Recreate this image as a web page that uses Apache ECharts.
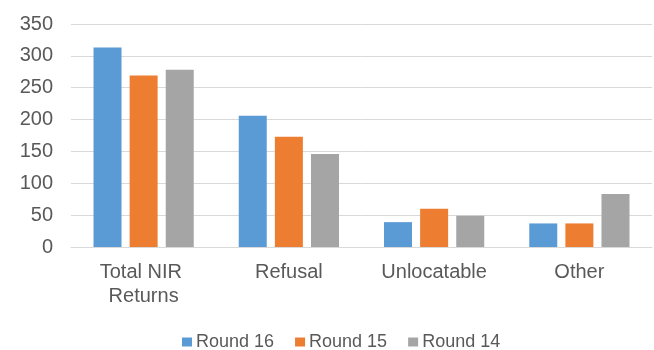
<!DOCTYPE html>
<html>
<head>
<meta charset="utf-8">
<script src="https://cdn.jsdelivr.net/npm/echarts@6/dist/echarts.min.js"></script>
<style>
    html, body { margin: 0; padding: 0; background: #fff; }
    #main { width: 654px; height: 350px; }
</style>
</head>
<body>
<div id="main"></div>
<script>
    // chart data
    const categories = ['Total NIR Returns', 'Refusal', 'Unlocatable', 'Other'];
    const seriesNames = ['Round 16', 'Round 15', 'Round 14'];
    const round16 = [313, 206, 39, 37];
    const round15 = [269, 173, 60, 37];
    const round14 = [278, 146, 49, 83];
    const colors = ['#5B9BD5', '#ED7D31', '#A5A5A5'];

    (function () {
        "use strict";
        let myChart = echarts.init(document.getElementById('main'));
        let values = [round16, round15, round14];
        let series = seriesNames.map(function (name, i) {
            return {
                name: name,
                type: 'bar',
                barWidth: 28,
                barGap: '29%',
                itemStyle: { color: colors[i] },
                data: values[i]
            };
        });
        let option = {
            animation: false,
            textStyle: { fontFamily: '"Liberation Sans", Arial, sans-serif' },
            grid: { left: 71, right: 2, top: 24, bottom: 103 },
            legend: {
                data: seriesNames,
                left: 177,
                top: 328,
                itemWidth: 10,
                itemHeight: 9,
                itemGap: 21,
                icon: 'rect',
                textStyle: { fontSize: 18, color: '#595959', padding: [0, 0, 0, -1] }
            },
            xAxis: {
                type: 'category',
                data: categories,
                axisLine: { lineStyle: { color: '#d9d9d9', width: 1 } },
                axisTick: { show: false },
                axisLabel: {
                    fontSize: 20,
                    color: '#595959',
                    margin: 13,
                    lineHeight: 24,
                    width: 110,
                    overflow: 'break',
                    interval: 0
                }
            },
            yAxis: {
                type: 'value',
                min: 0,
                max: 350,
                interval: 50,
                axisLine: { show: false },
                axisTick: { show: false },
                splitLine: { lineStyle: { color: '#d9d9d9', width: 1 } },
                axisLabel: { fontSize: 20, color: '#595959', margin: 18 }
            },
            series: series
        };
        myChart.setOption(option);
    })();
</script>
</body>
</html>
